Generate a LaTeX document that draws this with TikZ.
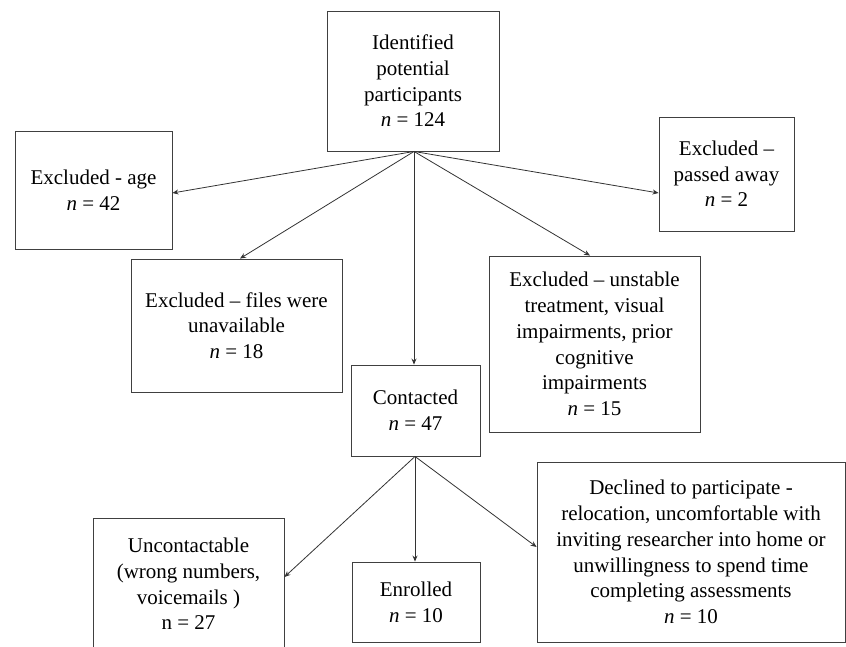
\documentclass[tikz,border=0pt]{standalone}
\usepackage{fontspec}
\setmainfont{Liberation Serif}
\usetikzlibrary{arrows.meta,calc}
\begin{document}
\begin{tikzpicture}[x=1pt,y=-1pt,
  box/.style={draw=black!75,line width=0.9pt,inner sep=0pt,align=center,
    font=\fontsize{21}{25.7}\selectfont},
  arr/.style={draw=black!80,line width=0.8pt,-{Stealth[length=6pt,width=5pt]}}]
\useasboundingbox (0,0) rectangle (846,646);
\clip (0,0) rectangle (846,646);
\node[box,minimum width=172pt,minimum height=140pt] (top) at (413,81)
  {Identified\\potential\\participants\\\textit{n} = 124};
\node[box,minimum width=157pt,minimum height=118pt] (age) at (93.5,190)
  {Excluded - age\\\textit{n} = 42};
\node[box,minimum width=211pt,minimum height=133pt] (files) at (236.5,325.5)
  {Excluded -- files were\\unavailable\\\textit{n} = 18};
\node[box,minimum width=129pt,minimum height=91pt] (cont) at (415.5,410.5)
  {Contacted\\\textit{n} = 47};
\node[box,minimum width=135pt,minimum height=114pt] (pass) at (726.5,174)
  {Excluded --\\passed away\\\textit{n} = 2};
\node[box,minimum width=211pt,minimum height=176pt] (unst) at (594.5,344)
  {Excluded -- unstable\\treatment, visual\\impairments, prior\\cognitive\\impairments\\\textit{n} = 15};
\node[box,minimum width=191pt,minimum height=132pt] (unc) at (188.5,584)
  {Uncontactable\\(wrong numbers,\\voicemails )\\n = 27};
\node[box,minimum width=128pt,minimum height=80pt] (enr) at (416,602)
  {Enrolled\\\textit{n} = 10};
\node[box,minimum width=308pt,minimum height=180pt] (decl) at (691,552)
  {Declined to participate -\\relocation, uncomfortable with\\inviting researcher into home or\\unwillingness to spend time\\completing assessments\\\textit{n} = 10};
\coordinate (ts) at ($(top.south)+(1,0)$);
\coordinate (cs) at ($(cont.south)+(-0.5,0)$);
\draw[arr] (ts) -- ($(age.east)+(0,3)$);
\draw[arr] (ts) -- ($(files.north)+(3.5,0)$);
\draw[arr] (ts) -- (ts |- cont.north);
\draw[arr] (ts) -- ($(pass.west)+(0,19)$);
\draw[arr] (ts) -- ($(unst.north)+(-4.5,0)$);
\draw[arr] (cs) -- ($(unc.east)+(0,-7)$);
\draw[arr] (cs) -- (cs |- enr.north);
\draw[arr] (cs) -- ($(decl.west)+(0,-5)$);
\end{tikzpicture}
\end{document}
